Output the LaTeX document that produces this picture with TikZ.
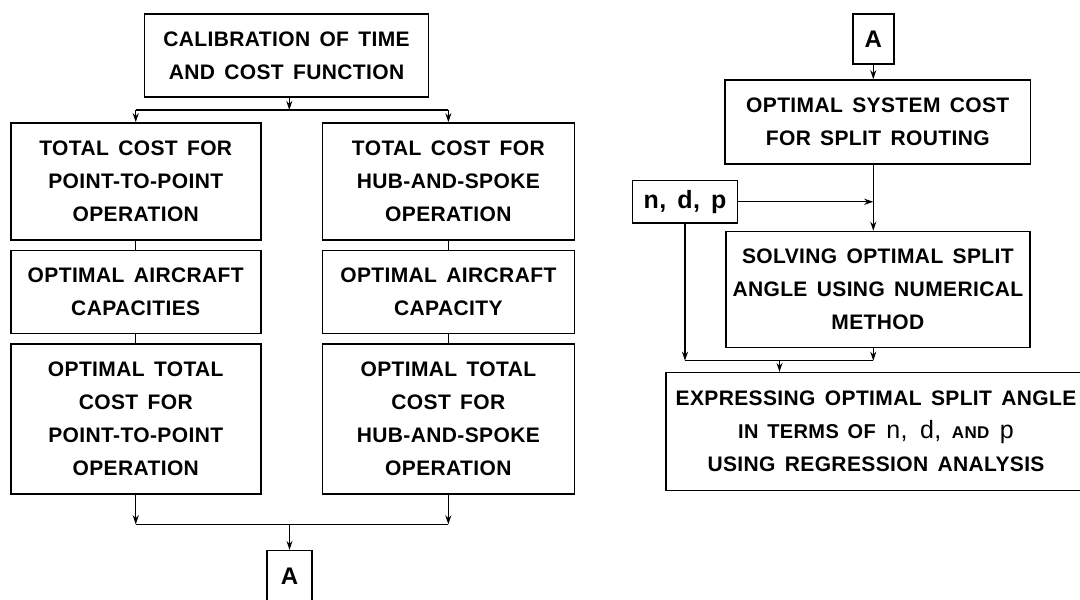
\documentclass[tikz,border=0pt]{standalone}
\usepackage{fontspec}
\setmainfont[LetterSpace=1.8, WordSpace=1.5]{Liberation Sans}
\usetikzlibrary{arrows.meta, positioning}

\begin{document}
\begin{tikzpicture}[x=1pt, y=1pt,
  stage/.style={rectangle, draw=black, line width=1.6pt, align=center, inner sep=0pt,
    font=\fontsize{21}{33}\selectfont\bfseries},
  conn/.style={rectangle, draw=black, line width=1.6pt, inner sep=0pt,
    font=\fontsize{24}{24}\selectfont\bfseries},
  arrow/.style={-{Stealth[length=9pt, width=6pt]}, line width=1.4pt},
  link/.style={line width=1.4pt}
]
\useasboundingbox (0,0) rectangle (1080,600);

% left part
\node (cal) [stage, minimum width=284pt, minimum height=83pt] at (286.5,544.5) {CALIBRATION OF TIME\\AND COST FUNCTION};

\node (pp1) [stage, minimum width=250pt, minimum height=117pt] at (135.75,418.5) {TOTAL COST FOR\\POINT-TO-POINT\\OPERATION};
\node (pp2) [stage, minimum width=250pt, minimum height=83pt, below=9pt of pp1] {OPTIMAL AIRCRAFT\\CAPACITIES};
\node (pp3) [stage, minimum width=250pt, minimum height=150pt, below=9pt of pp2] {OPTIMAL TOTAL\\COST FOR\\POINT-TO-POINT\\OPERATION};

\node (hs1) [stage, minimum width=252pt, minimum height=117pt, right=60pt of pp1] {TOTAL COST FOR\\HUB-AND-SPOKE\\OPERATION};
\node (hs2) [stage, minimum width=252pt, minimum height=83pt, below=9pt of hs1] {OPTIMAL AIRCRAFT\\CAPACITY};
\node (hs3) [stage, minimum width=252pt, minimum height=150pt, below=9pt of hs2] {OPTIMAL TOTAL\\COST FOR\\HUB-AND-SPOKE\\OPERATION};

\node (a1) [conn, minimum width=45pt, minimum height=52pt] at (289.5,23.3) {A};

% right part
\node (a2) [conn, minimum width=41pt, minimum height=50pt] at (873.3,561.15) {A};
\node (sys) [stage, minimum width=305.5pt, minimum height=84pt] at (877.75,478) {OPTIMAL SYSTEM COST\\FOR SPLIT ROUTING};
\node (ndp) [conn, minimum width=105pt, minimum height=42.5pt, font=\fontsize{25}{25}\selectfont\bfseries] at (685,398.25) {n, d, p};
\node (sol) [stage, minimum width=303.7pt, minimum height=116pt] at (877.85,310.5) {SOLVING OPTIMAL SPLIT\\ANGLE USING NUMERICAL\\METHOD};
\node (expr) [stage, minimum width=420pt, minimum height=118pt] at (876,168.3) {EXPRESSING OPTIMAL SPLIT ANGLE\\{\fontsize{20}{33}\selectfont IN TERMS OF}\enspace{\fontsize{25}{33}\selectfont\mdseries n,\enspace d,}\enspace{\fontsize{17}{33}\selectfont AND}\enspace{\fontsize{25}{33}\selectfont\mdseries p}\\USING REGRESSION ANALYSIS};

% junctions
\coordinate (j1) at (289.3,490);
\coordinate (j2) at (289.5,75.7);
\coordinate (j3) at (779.5,239.3);

% arrows, left
\draw [arrow] (cal.south -| j1) -- (j1);
\draw [link] (pp1.north |- j1) -- (hs1.north |- j1);
\draw [arrow] (pp1.north |- j1) -- (pp1.north);
\draw [arrow] (hs1.north |- j1) -- (hs1.north);
\draw [link] (pp1.south) -- (pp2.north);
\draw [link] (pp2.south) -- (pp3.north);
\draw [link] (hs1.south) -- (hs2.north);
\draw [link] (hs2.south) -- (hs3.north);
\draw [arrow] (pp3.south) -- (pp3.south |- j2);
\draw [arrow] (hs3.south) -- (hs3.south |- j2);
\draw [link] (pp3.south |- j2) -- (hs3.south |- j2);
\draw [arrow] (j2) -- (a1.north);

% arrows, right
\draw [arrow] (a2) -- (a2 |- sys.north);
\draw [arrow] (sys.south -| a2) -- (sol.north -| a2);
\draw [arrow] (ndp.east) -- (ndp.east -| a2);
\draw [arrow] (ndp.south) -- (ndp.south |- j3);
\draw [arrow] (sol.south -| a2) -- (j3 -| a2);
\draw [link] (ndp.south |- j3) -- (j3 -| a2);
\draw [arrow] (j3) -- (j3 |- expr.north);

\end{tikzpicture}
\end{document}
